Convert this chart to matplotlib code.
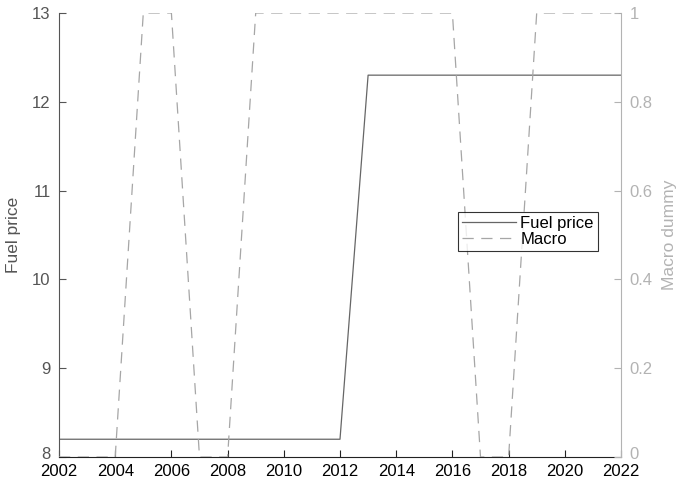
import matplotlib
matplotlib.use('Agg')
import matplotlib.pyplot as plt
from matplotlib.transforms import ScaledTranslation

plt.rcParams['font.family'] = ['Liberation Sans', 'DejaVu Sans']

years = list(range(2002, 2023))
fuel_price = [8.2] * 11 + [12.3] * 10
macro = [0, 0, 0, 1, 1, 0, 0, 1, 1, 1, 1, 1, 1, 1, 1, 0, 0, 1, 1, 1, 1]

left_col = '#555555'
right_col = '#b3b3b3'

fig = plt.figure(figsize=(6.82, 4.88), dpi=100)
ax = fig.add_axes([59 / 682, 31 / 488, 562 / 682, 444 / 488])
ax2 = ax.twinx()

l1, = ax.plot(years, fuel_price, color='#666666', lw=0.9, label='Fuel price')
l2, = ax2.plot(years, macro, color='#a6a6a6', lw=0.9, ls=(0, (9, 6)), label='Macro')

ax.set_xlim(2002, 2022)
ax.set_ylim(8, 13)
ax2.set_ylim(0, 1)
ax.set_xticks(range(2002, 2023, 2))
ax.set_yticks(range(8, 14))
ax2.set_yticks([0, 0.2, 0.4, 0.6, 0.8, 1])
ax2.set_yticklabels(['0', '0.2', '0.4', '0.6', '0.8', '1'])

for a in (ax, ax2):
    a.spines['top'].set_visible(False)
ax.spines['right'].set_visible(False)
ax2.spines['left'].set_visible(False)
ax2.spines['bottom'].set_visible(False)
ax.spines['left'].set_color(left_col)
ax.spines['bottom'].set_color('#222222')
ax2.spines['right'].set_color(right_col)

fs = 12
ax.tick_params(axis='x', direction='in', length=5, colors='#222222', labelsize=fs, labelcolor='black', pad=5)
ax.tick_params(axis='y', direction='in', length=5, colors=left_col, labelsize=fs, pad=6)
ax2.tick_params(axis='y', direction='in', length=5, colors=right_col, labelsize=fs, pad=6)

# bottom y labels sit a touch higher, as in the original
up = ScaledTranslation(0, 3 / 72, fig.dpi_scale_trans)
for a in (ax, ax2):
    lab = a.get_yticklabels()[0]
    lab.set_transform(lab.get_transform() + up)

ax.set_ylabel('Fuel price', color=left_col, fontsize=12.5, labelpad=8)
ax2.set_ylabel('Macro dummy', color=right_col, fontsize=12.5, labelpad=7)

leg = ax2.legend([l1, l2], ['Fuel price', 'Macro'], loc='upper left',
                 bbox_to_anchor=(458 / 682, 1 - 212 / 488), bbox_transform=fig.transFigure,
                 fontsize=fs, frameon=True, fancybox=False, handlelength=3.2,
                 borderpad=0.25, labelspacing=0.05, handletextpad=0.3, borderaxespad=0)
leg.get_frame().set_edgecolor('black')
leg.get_frame().set_linewidth(0.8)

fig.savefig('out.png', dpi=100)
